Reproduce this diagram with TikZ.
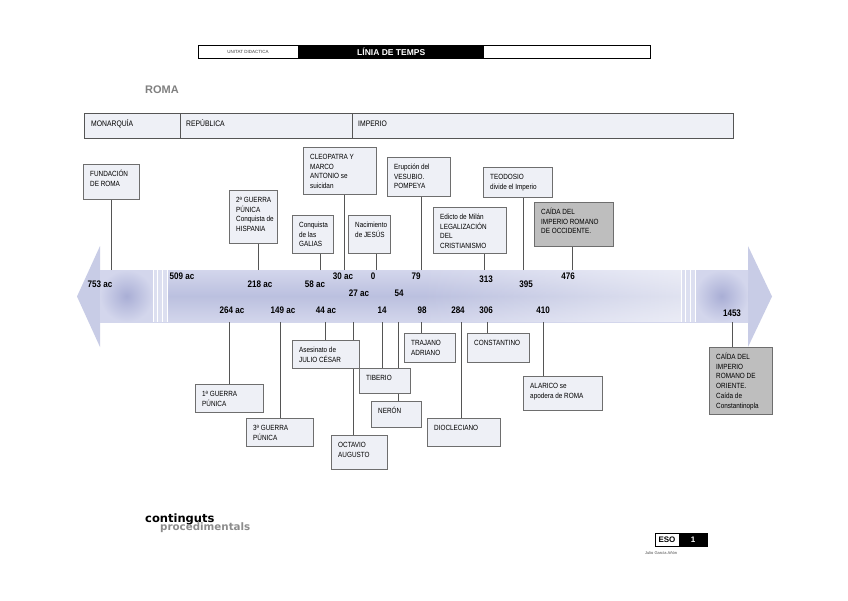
\documentclass[tikz,border=0pt]{standalone}
\usepackage{fontspec}
\setmainfont{Liberation Sans}
\newfontfamily\nar[FakeStretch=0.85]{Liberation Sans}
\newfontfamily\dvs{DejaVu Sans}
\usetikzlibrary{fadings}
\definecolor{boxfill}{HTML}{EEF0F6}
\definecolor{boxline}{HTML}{6E6E6E}
\definecolor{conn}{HTML}{555555}
\definecolor{grayfill}{HTML}{BEBEBE}
\definecolor{bandL}{HTML}{D3D6EC}
\definecolor{bandD}{HTML}{BBC0DF}
\definecolor{headc}{HTML}{C8CCE6}
\definecolor{blob}{HTML}{A9AED5}
\definecolor{stripe}{HTML}{DCDFF0}
\pgfdeclarelayer{bg}
\pgfdeclarelayer{lines}
\pgfsetlayers{bg,lines,main}
\tikzset{
  evbox/.style={draw=boxline, line width=1pt, inner sep=0pt, anchor=north west},
  evtext/.style={font=\nar\fontsize{7.5}{9.8}\selectfont, align=left, anchor=north west, inner sep=0pt},
  yr/.style={font=\nar\bfseries\fontsize{9.5}{10}\selectfont, inner sep=0pt},
  connector/.style={draw=conn, line width=0.9pt},
  pertext/.style={font=\nar\fontsize{8}{9}\selectfont, anchor=base west, inner sep=0pt},
  sepline/.style={draw=conn, line width=0.9pt}
}
\newcommand{\evb}[7]{%
  \node[evbox, fill=#6, minimum width=#4pt, minimum height=#5pt] (#1) at (#2,#3) {};
  \node[evtext] (#1-t) at ([xshift=7pt,yshift=-5pt]#1.north west) {\rule{0pt}{7pt}#7};
}
\begin{document}
\begin{tikzpicture}[x=1pt,y=-1pt]
\useasboundingbox (0,0) rectangle (848,600);

% header
\node[draw=black, line width=0.6pt, minimum width=452pt, minimum height=13pt, anchor=north west, inner sep=0pt] (hdr) at (198,45) {};
\node[fill=black, minimum width=186pt, minimum height=13pt, anchor=north west, inner sep=0pt, text=white, font=\bfseries\fontsize{8.5}{9}\selectfont] (htitle) at (298,45) {LÍNIA DE TEMPS};
\node[font=\fontsize{4.5}{5}\selectfont, text=black!75, inner sep=0pt] (hunit) at (248,51.5) {UNITAT DIDACTICA};

% title
\node[font=\bfseries\fontsize{11}{12}\selectfont, text=black!50, inner sep=0pt] (roma) at (162,90) {ROMA};

% periods
\node[draw=conn, fill=boxfill, line width=0.9pt, minimum width=649pt, minimum height=25pt, anchor=north west, inner sep=0pt] (per) at (84,113) {};
\draw[sepline] (180,113) -- (180,138);
\draw[sepline] (352,113) -- (352,138);
\node[pertext] (pmon) at (91,126) {MONARQUÍA};
\node[pertext] (prep) at (186,126) {REPÚBLICA};
\node[pertext] (pimp) at (358,126) {IMPERIO};

% timeline band
\begin{pgfonlayer}{bg}
\fill[white] (0,0) rectangle (848,600);
\fill[headc] (77,296.5) -- (100,246) -- (100,347) -- cycle;
\fill[headc] (748,246) -- (772,296.5) -- (748,347) -- cycle;
\shade[top color=bandL, bottom color=bandL, middle color=bandD] (100,270) rectangle (748,322);
\fill[white, opacity=0.55, path fading=west] (420,270) rectangle (681,322);
\shade[inner color=blob, outer color=bandL] (100,270) rectangle (153,322);
\shade[inner color=blob, outer color=bandL] (695,270) rectangle (748,322);
\fill[stripe] (153,270) rectangle (168,322);
\fill[stripe] (681,270) rectangle (695,322);
\foreach \sx in {153,157.5,162.5,167,681,685.5,690.5,695}
  \draw[white, line width=0.8pt] (\sx,270) -- (\sx,322);
\end{pgfonlayer}

% top boxes
\evb{fund}{83}{164}{56}{35}{boxfill}{FUNDACIÓN\\DE ROMA}
\evb{gp2}{229}{190}{48}{53}{boxfill}{2ª GUERRA\\PÚNICA\\Conquista de\\HISPANIA}
\evb{gal}{292}{215}{41}{38}{boxfill}{Conquista\\de las\\GALIAS}
\evb{cleo}{303}{147}{73}{47}{boxfill}{CLEOPATRA Y\\MARCO\\ANTONIO se\\suicidan}
\evb{jes}{348}{215}{42}{38}{boxfill}{Nacimiento\\de JESÚS}
\evb{ves}{387}{157}{63}{39}{boxfill}{Erupción del\\VESUBIO.\\POMPEYA}
\evb{edi}{433}{207}{73}{46}{boxfill}{Edicto de Milán\\LEGALIZACIÓN\\DEL\\CRISTIANISMO}
\evb{teo}{483}{167}{69}{30}{boxfill}{TEODOSIO\\divide el Imperio}
\evb{occ}{534}{202}{79}{44}{grayfill}{CAÍDA DEL\\IMPERIO ROMANO\\DE OCCIDENTE.}

% bottom boxes
\evb{gp1}{195}{384}{68}{28}{boxfill}{1ª GUERRA\\PÚNICA}
\evb{gp3}{246}{418}{67}{28}{boxfill}{3ª GUERRA\\PÚNICA}
\evb{jul}{292}{340}{67}{28}{boxfill}{Asesinato de\\JULIO CÉSAR}
\evb{oct}{331}{435}{56}{34}{boxfill}{OCTAVIO\\AUGUSTO}
\evb{tib}{359}{368}{51}{25}{boxfill}{TIBERIO}
\evb{ner}{371}{401}{50}{26}{boxfill}{NERÓN}
\evb{tra}{404}{333}{51}{29}{boxfill}{TRAJANO\\ADRIANO}
\evb{dio}{427}{418}{73}{28}{boxfill}{DIOCLECIANO}
\evb{con}{467}{333}{62}{29}{boxfill}{CONSTANTINO}
\evb{ala}{523}{376}{79}{34}{boxfill}{ALARICO se\\apodera de ROMA}
\evb{ori}{709}{347}{63}{67}{grayfill}{CAÍDA DEL\\IMPERIO\\ROMANO DE\\ORIENTE.\\Caída de\\Constantinopla}

% tick coordinates
\coordinate (t753) at (111,270);
\coordinate (t218) at (258,270);
\coordinate (t58) at (320,270);
\coordinate (t30) at (344,270);
\coordinate (t0) at (376,270);
\coordinate (t79) at (421,270);
\coordinate (t313) at (484,270);
\coordinate (t395) at (523,270);
\coordinate (t476) at (572,270);
\coordinate (b264) at (229,322);
\coordinate (b149) at (280,322);
\coordinate (b44) at (325,322);
\coordinate (b27) at (353,322);
\coordinate (b14) at (382,322);
\coordinate (b54) at (398,322);
\coordinate (b98) at (421,322);
\coordinate (b284) at (461,322);
\coordinate (b306) at (487,322);
\coordinate (b410) at (543,322);
\coordinate (b1453) at (732,322);

\begin{pgfonlayer}{lines}
\draw[connector] (t753) -- (t753 |- fund.south);
\draw[connector] (t218) -- (t218 |- gp2.south);
\draw[connector] (t58) -- (t58 |- gal.south);
\draw[connector] (t30) -- (t30 |- cleo.south);
\draw[connector] (t0) -- (t0 |- jes.south);
\draw[connector] (t79) -- (t79 |- ves.south);
\draw[connector] (t313) -- (t313 |- edi.south);
\draw[connector] (t395) -- (t395 |- teo.south);
\draw[connector] (t476) -- (t476 |- occ.south);
\draw[connector] (b264) -- (b264 |- gp1.north);
\draw[connector] (b149) -- (b149 |- gp3.north);
\draw[connector] (b44) -- (b44 |- jul.north);
\draw[connector] (b27) -- (b27 |- oct.north);
\draw[connector] (b14) -- (b14 |- tib.north);
\draw[connector] (b54) -- (b54 |- ner.north);
\draw[connector] (b98) -- (b98 |- tra.north);
\draw[connector] (b284) -- (b284 |- dio.north);
\draw[connector] (b306) -- (b306 |- con.north);
\draw[connector] (b410) -- (b410 |- ala.north);
\draw[connector] (b1453) -- (b1453 |- ori.north);
\end{pgfonlayer}

% year labels
\node[yr] (y753) at (100,284) {753 ac};
\node[yr] (y509) at (182,276) {509 ac};
\node[yr] (y218) at (260,284) {218 ac};
\node[yr] (y58) at (315,284) {58 ac};
\node[yr] (y30) at (343,276) {30 ac};
\node[yr] (y0) at (373,276) {0};
\node[yr] (y79) at (416,276) {79};
\node[yr] (y27) at (359,293) {27 ac};
\node[yr] (y54) at (399,293) {54};
\node[yr] (y313) at (486,279) {313};
\node[yr] (y395) at (526,284) {395};
\node[yr] (y476) at (568,276) {476};
\node[yr] (y264) at (232,310) {264 ac};
\node[yr] (y149) at (283,310) {149 ac};
\node[yr] (y44) at (326,310) {44 ac};
\node[yr] (y14) at (382,310) {14};
\node[yr] (y98) at (422,310) {98};
\node[yr] (y284) at (458,310) {284};
\node[yr] (y306) at (486,310) {306};
\node[yr] (y410) at (543,310) {410};
\node[yr] (y1453) at (732,313) {1453};

% footer
\node[font=\dvs\bfseries\fontsize{11.5}{12}\selectfont, anchor=base west, inner sep=0pt] (cont) at (145,522) {continguts};
\node[font=\dvs\bfseries\fontsize{10.3}{11}\selectfont, text=black!45, anchor=base west, inner sep=0pt] (proc) at (160,530) {procedimentals};

\node[draw=black, line width=0.6pt, minimum width=52pt, minimum height=12.5pt, anchor=north west, inner sep=0pt] (eso) at (655,533) {};
\node[fill=black, minimum width=28pt, minimum height=12.5pt, anchor=north west, inner sep=0pt, text=white, font=\bfseries\fontsize{8}{9}\selectfont] (eson) at (679,533) {1};
\node[font=\bfseries\fontsize{8}{9}\selectfont, inner sep=0pt] (esot) at (667,539.5) {ESO};
\node[font=\fontsize{4}{5}\selectfont, text=black!70, anchor=west, inner sep=0pt] (auth) at (645,553) {Julio García Añón};
\end{tikzpicture}
\end{document}
